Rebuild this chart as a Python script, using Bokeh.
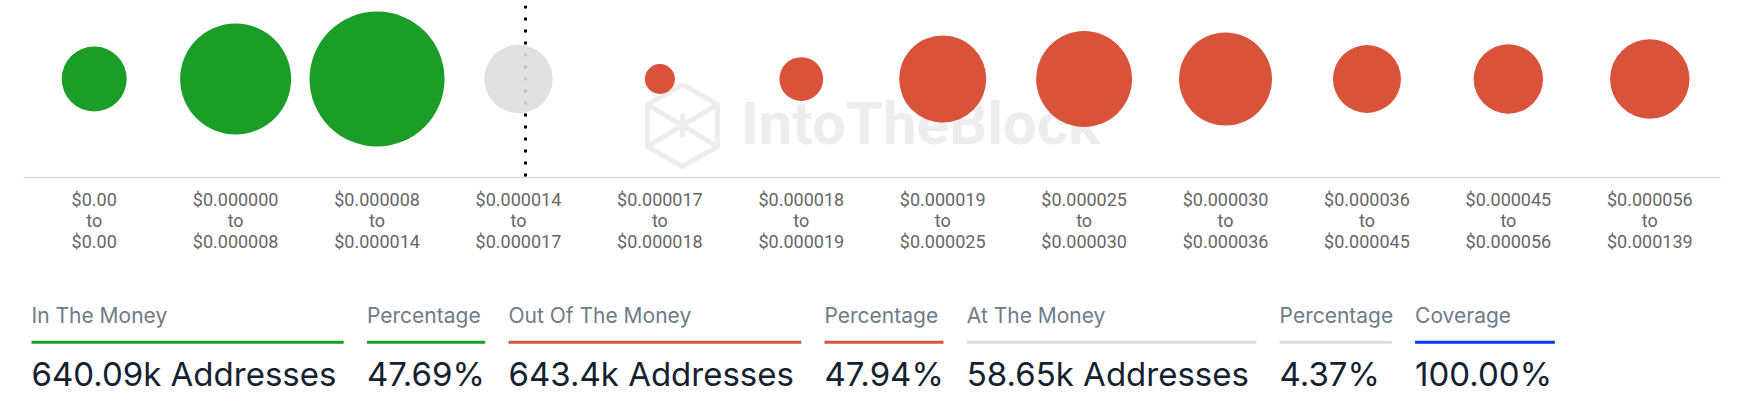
import numpy as np
from bokeh.plotting import figure
from bokeh.layouts import column
from bokeh.models import FactorRange, Range1d, Span, ColumnDataSource
from bokeh.core.properties import value
from bokeh.embed import file_html
from bokeh.resources import INLINE

# ---------------- data ----------------
range_low = ["$0.00", "$0.000000", "$0.000008", "$0.000014", "$0.000017", "$0.000018",
             "$0.000019", "$0.000025", "$0.000030", "$0.000036", "$0.000045", "$0.000056"]
range_high = ["$0.00", "$0.000008", "$0.000014", "$0.000017", "$0.000018", "$0.000019",
              "$0.000025", "$0.000030", "$0.000036", "$0.000045", "$0.000056", "$0.000139"]
addresses_k = [50.6, 222.8, 366.7, 58.65, 11.1, 17.2, 116.3, 150.8, 139.1, 57.7, 61.2, 90.0]
status = ["in", "in", "in", "at", "out", "out", "out", "out", "out", "out", "out", "out"]

# current price marker: bucket index and relative position inside that bucket
price_bucket = 3
price_in_bucket = 0.55

summary_labels = ["In The Money", "Percentage", "Out Of The Money", "Percentage",
                  "At The Money", "Percentage", "Coverage"]
summary_values = ["640.09k Addresses", "47.69%", "643.4k Addresses", "47.94%",
                  "58.65k Addresses", "4.37%", "100.00%"]
summary_kind = ["in", "in", "out", "out", "at", "at", "cov"]

# ---------------- styles / layout ----------------
COLORS = {"in": "#1a9e28", "out": "#d9523a", "at": "#dcdcdc", "cov": "#0536ff"}
ALPHAS = {"in": 1.0, "out": 1.0, "at": 0.88}
MIN_SIZE, MAX_SIZE = 30, 135

W = 1736
BORDER_L, BORDER_R = 23, 16
BAND_H = 5
TOP_H = 257
SUM_H = 138
SUM_TOP = BAND_H + TOP_H

factors = [f"{lo}\nto\n{hi}" for lo, hi in zip(range_low, range_high)]
v = np.array(addresses_k)
pos = np.sqrt((v - v.min()) / (v.max() - v.min()))
diam = MIN_SIZE + pos * (MAX_SIZE - MIN_SIZE)

src = ColumnDataSource(dict(
    x=factors, y=[0] * len(factors), size=diam,
    color=[COLORS[s] for s in status], alpha=[ALPHAS[s] for s in status]))

# thin page band at the top
band = figure(width=W, height=BAND_H, output_backend="svg", toolbar_location=None,
              x_axis_type=None, y_axis_type=None, min_border_left=BORDER_L,
              min_border_right=BORDER_R, min_border_top=0, min_border_bottom=0)
band.outline_line_color = None
band.xgrid.visible = False
band.ygrid.visible = False
band.background_fill_color = "#f7f8fb"
band.border_fill_color = "#f7f8fb"

p = figure(width=W, height=TOP_H, x_range=FactorRange(*factors, range_padding=0),
           y_range=Range1d(-1.34, 1.0), output_backend="svg", toolbar_location=None,
           min_border_left=BORDER_L, min_border_right=BORDER_R, min_border_top=0,
           min_border_bottom=85)
p.outline_line_color = None
p.xgrid.visible = False
p.ygrid.visible = False
p.yaxis.visible = False
p.background_fill_color = "white"
p.border_fill_color = "white"

ax = p.xaxis[0]
ax.axis_line_color = "#ccd6eb"
ax.axis_line_width = 1
ax.major_tick_line_color = None
ax.minor_tick_line_color = None
ax.major_tick_out = 0
ax.major_tick_in = 0
ax.major_label_standoff = 11
ax.major_label_text_font = "Roboto"
ax.major_label_text_font_size = "18px"
ax.major_label_text_color = "#666666"
ax.major_label_text_line_height = 1.0

# watermark
wm_color = "#ededed"
hex_x = [4.660, 4.907, 4.907, 4.660, 4.412, 4.412, 4.660]
hex_y = [-0.075, -0.347, -0.918, -1.190, -0.918, -0.347, -0.075]
p.line(hex_x, hex_y, line_color=wm_color, line_width=5, line_join="round")
p.multi_line([[4.412, 4.907], [4.907, 4.412], [4.660, 4.660]],
             [[-0.347, -0.918], [-0.347, -0.918], [-0.47, -0.80]],
             line_color=wm_color, line_width=5)
p.text(x=[5.075], y=[-0.610], text=["IntoTheBlock"], text_font=value("Roboto"),
       text_font_style="bold", text_font_size="60px", text_color=wm_color,
       text_baseline="middle", text_align="left")

price_line = Span(location=price_bucket + price_in_bucket, dimension="height",
                  line_color="black", line_width=3, line_dash="3 9", level="underlay")
p.add_layout(price_line)

p.scatter(x="x", y="y", size="size", fill_color="color", fill_alpha="alpha",
          line_color=None, source=src)

# ---------------- summary (page-pixel coordinates) ----------------
col_widths = [312.2, 118.2, 292.7, 119.0, 289.5, 112.2, 139.8]
col_gap = 23.3
x_start = 31.0
starts = []
x = x_start
for w in col_widths:
    starts.append(x)
    x += w + col_gap
ends = [s + w for s, w in zip(starts, col_widths)]

q = figure(width=W, height=SUM_H, x_range=Range1d(BORDER_L, W - BORDER_R),
           y_range=Range1d(SUM_TOP + SUM_H, SUM_TOP),
           output_backend="svg", toolbar_location=None, x_axis_type=None, y_axis_type=None,
           min_border_left=BORDER_L, min_border_right=BORDER_R, min_border_top=0,
           min_border_bottom=0)
q.outline_line_color = None
q.xgrid.visible = False
q.ygrid.visible = False

q.text(x=starts, y=[315.0] * 7, text=summary_labels, text_font=value("Inter"),
       text_font_size="21px", text_color="#6e7b88", text_baseline="middle",
       text_align="left")
q.quad(left=starts, right=ends, top=[340.2] * 7, bottom=[343.2] * 7,
       fill_color=[COLORS[k] for k in summary_kind], line_color=None)
q.text(x=starts, y=[373.5] * 7, text=summary_values, text_font=value("Inter"),
       text_font_size="33px", text_color="#142130", text_baseline="middle",
       text_align="left")

layout = column(band, p, q, spacing=0)
open("out.html", "w").write(file_html(layout, INLINE))
